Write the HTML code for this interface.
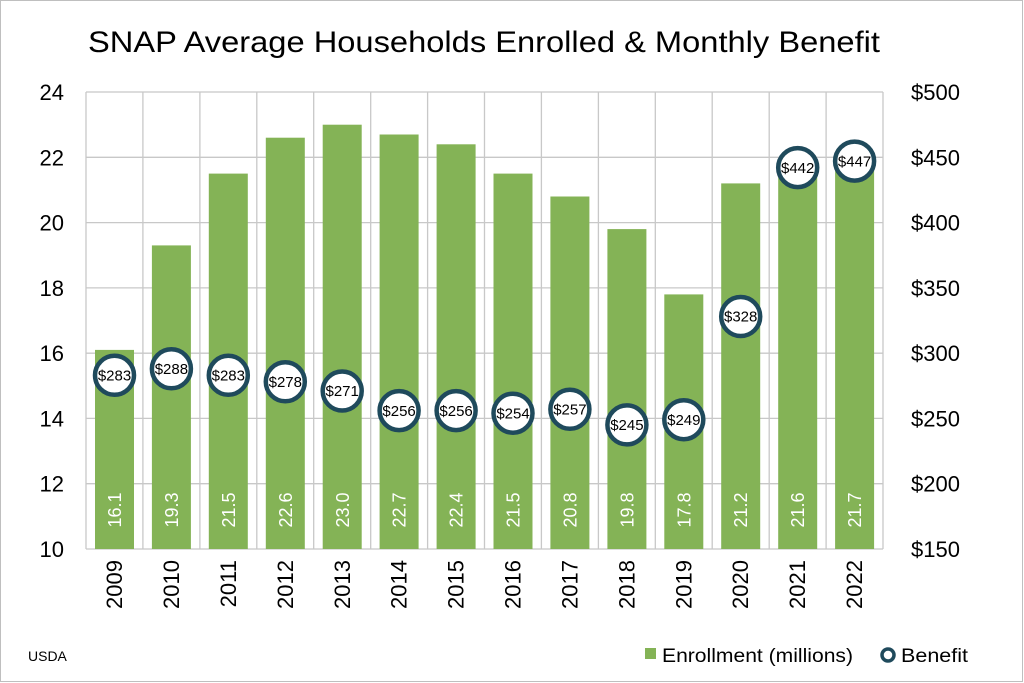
<!DOCTYPE html>
<html><head><meta charset="utf-8"><style>
html,body{margin:0;padding:0;background:#fff}
svg{display:block;font-family:"Liberation Sans",sans-serif}
</style></head><body>
<svg width="1024" height="683" viewBox="0 0 1024 683" xmlns="http://www.w3.org/2000/svg">
<rect x="0.5" y="0.5" width="1022" height="681" fill="#fff" stroke="#bfbfbf"/>
<text x="484" y="52" text-anchor="middle" font-size="30" fill="#000" textLength="792" lengthAdjust="spacingAndGlyphs">SNAP Average Households Enrolled &amp; Monthly Benefit</text>
<g stroke="#c8c8c8" stroke-width="1.3" fill="none">
<line x1="86" y1="92" x2="883" y2="92"/><line x1="86" y1="157.3" x2="883" y2="157.3"/><line x1="86" y1="222.6" x2="883" y2="222.6"/><line x1="86" y1="287.9" x2="883" y2="287.9"/><line x1="86" y1="353.2" x2="883" y2="353.2"/><line x1="86" y1="418.4" x2="883" y2="418.4"/><line x1="86" y1="483.7" x2="883" y2="483.7"/><line x1="86" y1="549" x2="883" y2="549"/>
<line x1="86" y1="92" x2="86" y2="549"/><line x1="142.9" y1="92" x2="142.9" y2="549"/><line x1="199.9" y1="92" x2="199.9" y2="549"/><line x1="256.8" y1="92" x2="256.8" y2="549"/><line x1="313.7" y1="92" x2="313.7" y2="549"/><line x1="370.7" y1="92" x2="370.7" y2="549"/><line x1="427.6" y1="92" x2="427.6" y2="549"/><line x1="484.5" y1="92" x2="484.5" y2="549"/><line x1="541.4" y1="92" x2="541.4" y2="549"/><line x1="598.4" y1="92" x2="598.4" y2="549"/><line x1="655.3" y1="92" x2="655.3" y2="549"/><line x1="712.2" y1="92" x2="712.2" y2="549"/><line x1="769.2" y1="92" x2="769.2" y2="549"/><line x1="826.1" y1="92" x2="826.1" y2="549"/><line x1="883" y1="92" x2="883" y2="549"/>
</g>
<g fill="#84b356">
<rect x="95" y="349.9" width="39" height="199.1"/><rect x="151.9" y="245.4" width="39" height="303.6"/><rect x="208.8" y="173.6" width="39" height="375.4"/><rect x="265.8" y="137.7" width="39" height="411.3"/><rect x="322.7" y="124.7" width="39" height="424.3"/><rect x="379.6" y="134.5" width="39" height="414.5"/><rect x="436.6" y="144.3" width="39" height="404.7"/><rect x="493.5" y="173.6" width="39" height="375.4"/><rect x="550.4" y="196.5" width="39" height="352.5"/><rect x="607.4" y="229.1" width="39" height="319.9"/><rect x="664.3" y="294.4" width="39" height="254.6"/><rect x="721.2" y="183.4" width="39" height="365.6"/><rect x="778.2" y="170.4" width="39" height="378.6"/><rect x="835.1" y="167.1" width="39" height="381.9"/>
</g>
<g fill="#fff" font-size="18" text-anchor="middle">
<text transform="translate(121,510) rotate(-90)">16.1</text><text transform="translate(178,510) rotate(-90)">19.3</text><text transform="translate(235,510) rotate(-90)">21.5</text><text transform="translate(292,510) rotate(-90)">22.6</text><text transform="translate(349,510) rotate(-90)">23.0</text><text transform="translate(405.5,510) rotate(-90)">22.7</text><text transform="translate(462.5,510) rotate(-90)">22.4</text><text transform="translate(519.5,510) rotate(-90)">21.5</text><text transform="translate(576.5,510) rotate(-90)">20.8</text><text transform="translate(633.5,510) rotate(-90)">19.8</text><text transform="translate(690.5,510) rotate(-90)">17.8</text><text transform="translate(747,510) rotate(-90)">21.2</text><text transform="translate(804,510) rotate(-90)">21.6</text><text transform="translate(861,510) rotate(-90)">21.7</text>
</g>
<g fill="#fff" stroke="#1f4a5c" stroke-width="4.5">
<circle cx="114.5" cy="375.3" r="19.5"/><circle cx="171.4" cy="368.8" r="19.5"/><circle cx="228.3" cy="375.3" r="19.5"/><circle cx="285.3" cy="381.8" r="19.5"/><circle cx="342.2" cy="391" r="19.5"/><circle cx="399.1" cy="410.6" r="19.5"/><circle cx="456.1" cy="410.6" r="19.5"/><circle cx="513" cy="413.2" r="19.5"/><circle cx="569.9" cy="409.3" r="19.5"/><circle cx="626.9" cy="424.9" r="19.5"/><circle cx="683.8" cy="419.7" r="19.5"/><circle cx="740.7" cy="316.5" r="19.5"/><circle cx="797.7" cy="167.6" r="19.5"/><circle cx="854.6" cy="161.1" r="19.5"/>
</g>
<g fill="#000" font-size="15" text-anchor="middle">
<text x="114.5" y="380.5">$283</text><text x="171.4" y="374">$288</text><text x="228.3" y="380.5">$283</text><text x="285.3" y="387">$278</text><text x="342.2" y="396.2">$271</text><text x="399.1" y="415.8">$256</text><text x="456.1" y="415.8">$256</text><text x="513" y="418.4">$254</text><text x="569.9" y="414.5">$257</text><text x="626.9" y="430.1">$245</text><text x="683.8" y="424.9">$249</text><text x="740.7" y="321.7">$328</text><text x="797.7" y="172.8">$442</text><text x="854.6" y="166.3">$447</text>
</g>
<g fill="#000" font-size="22" text-anchor="end">
<text x="64" y="100">24</text><text x="64" y="165.3">22</text><text x="64" y="230.6">20</text><text x="64" y="295.9">18</text><text x="64" y="361.2">16</text><text x="64" y="426.4">14</text><text x="64" y="491.7">12</text><text x="64" y="557">10</text>
</g>
<g fill="#000" font-size="22">
<text x="911" y="100">$500</text><text x="911" y="165.3">$450</text><text x="911" y="230.6">$400</text><text x="911" y="295.9">$350</text><text x="911" y="361.2">$300</text><text x="911" y="426.4">$250</text><text x="911" y="491.7">$200</text><text x="911" y="557">$150</text>
</g>
<g fill="#000" font-size="22" text-anchor="end">
<text transform="translate(122,560) rotate(-90)">2009</text><text transform="translate(179,560) rotate(-90)">2010</text><text transform="translate(236,560) rotate(-90)">2011</text><text transform="translate(293,560) rotate(-90)">2012</text><text transform="translate(350,560) rotate(-90)">2013</text><text transform="translate(406.5,560) rotate(-90)">2014</text><text transform="translate(463.5,560) rotate(-90)">2015</text><text transform="translate(520.5,560) rotate(-90)">2016</text><text transform="translate(577.5,560) rotate(-90)">2017</text><text transform="translate(634.5,560) rotate(-90)">2018</text><text transform="translate(691.5,560) rotate(-90)">2019</text><text transform="translate(748,560) rotate(-90)">2020</text><text transform="translate(805,560) rotate(-90)">2021</text><text transform="translate(862,560) rotate(-90)">2022</text>
</g>
<rect x="645" y="648" width="11" height="11" fill="#84b356"/>
<text x="662" y="662" font-size="19" fill="#000" textLength="191" lengthAdjust="spacingAndGlyphs">Enrollment (millions)</text>
<circle cx="888" cy="655" r="6" fill="#fff" stroke="#1f4a5c" stroke-width="3.5"/>
<text x="901" y="662" font-size="19" fill="#000" textLength="67" lengthAdjust="spacingAndGlyphs">Benefit</text>
<text x="28" y="661" font-size="14" fill="#000">USDA</text>
</svg>
</body></html>
